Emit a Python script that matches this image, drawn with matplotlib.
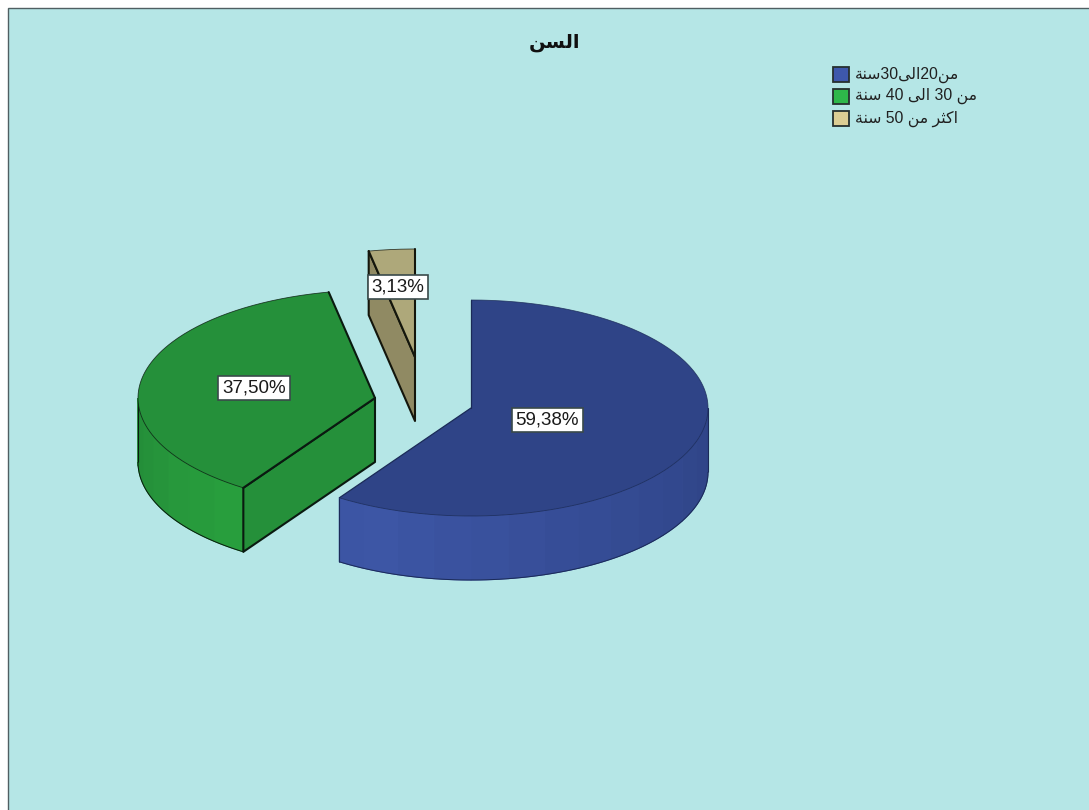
import re

import matplotlib
matplotlib.use('Agg')
import matplotlib.pyplot as plt
from matplotlib.patches import Polygon, Rectangle
import numpy as np

# Data
TITLE = 'السن'
CATEGORIES = ['من20الى30سنة', 'من 30 الى 40 سنة', 'اكثر من 50 سنة']
SHARES = [59.38, 37.50, 3.13]

# Colours per slice: top face, cut face, darkest and brightest wall band, legend swatch
TOP_COLORS = ['#2F4487', '#25903A', '#AEA87A']
CUT_COLORS = ['#2F4487', '#25903A', '#908A63']
WALL_DARK = ['#2F4487', '#1F7F34', '#908A63']
WALL_LIGHT = ['#3D56A6', '#2AA33F', '#A09A70']
EDGE_COLORS = ['#1B2B58', '#0A1A10', '#14160C']
EDGE_WIDTHS = [0.9, 1.5, 1.5]
SWATCH_COLORS = ['#3E58AC', '#2EB84A', '#DCCE94']
BACKGROUND = '#B5E6E6'

# Pie geometry, in pixels
RX, RY = 237, 108
DEPTH = 64
APEXES = [(471, 408), (375, 398), (415, 357)]
LABEL_POS = [(547, 420), (254, 388), (398, 287)]

# Joining forms: isolated, final, initial, medial
FORMS = {
    'ا': ('\uFE8D', '\uFE8E', None, None),
    'ر': ('\uFEAD', '\uFEAE', None, None),
    'ة': ('\uFE93', '\uFE94', None, None),
    'ى': ('\uFEEF', '\uFEF0', None, None),
    'ل': ('\uFEDD', '\uFEDE', '\uFEDF', '\uFEE0'),
    'س': ('\uFEB1', '\uFEB2', '\uFEB3', '\uFEB4'),
    'ن': ('\uFEE5', '\uFEE6', '\uFEE7', '\uFEE8'),
    'م': ('\uFEE1', '\uFEE2', '\uFEE3', '\uFEE4'),
    'ك': ('\uFED9', '\uFEDA', '\uFEDB', '\uFEDC'),
    'ث': ('\uFE99', '\uFE9A', '\uFE9B', '\uFE9C'),
}


def shape_word(word):
    """Pick the joining form of every letter and return the word in drawing order."""
    out = []
    for i, ch in enumerate(word):
        prev_joins = i > 0 and FORMS[word[i - 1]][2] is not None
        next_exists = i < len(word) - 1
        iso, fin, ini, med = FORMS[ch]
        if ini is None:
            out.append(fin if prev_joins else iso)
        elif prev_joins:
            out.append(med if next_exists else fin)
        else:
            out.append(ini if next_exists else iso)
    return ''.join(reversed(out))


def shape(text):
    """matplotlib has no bidi or shaping, so lay the runs out right to left by hand."""
    runs = re.findall(r'\d+|\s+|[^\d\s]+', text)
    return ''.join(r if not r[0].isalpha() else shape_word(r) for r in reversed(runs))


def rim(apex, theta, drop=0):
    """Points on the rim for clockwise angles measured from 12 o'clock, in degrees."""
    t = np.radians(theta)
    return np.column_stack((apex[0] + RX * np.sin(t), apex[1] + drop - RY * np.cos(t)))


def mix(c1, c2, f):
    a = np.array(matplotlib.colors.to_rgb(c1))
    b = np.array(matplotlib.colors.to_rgb(c2))
    return tuple(a + (b - a) * f)


def draw_slice(ax, i, start, end):
    apex = APEXES[i]
    # Outer wall, only the part that faces the viewer, drawn as flat bands
    lo, hi = max(start, 90), min(end, 270)
    if hi > lo:
        edges = np.arange(lo, hi + 9, 9.0)
        edges[-1] = hi
        for a, b in zip(edges[:-1], edges[1:]):
            th = np.linspace(a, b, 6)
            pts = np.vstack((rim(apex, th), rim(apex, th[::-1], DEPTH)))
            f = np.clip(1 - abs((a + b) / 2 - 205) / 115, 0, 1) ** 1.2
            col = mix(WALL_DARK[i], WALL_LIGHT[i], f)
            # same-colour edge closes the antialiasing seams between bands
            ax.add_patch(Polygon(pts, closed=True, fc=col, ec=col, lw=0.8, zorder=2))
        th = np.linspace(lo, hi, 80)
        ax.plot(*rim(apex, th, DEPTH).T, color=EDGE_COLORS[i], lw=0.7,
                solid_capstyle='butt', zorder=3)
        for a in (lo, hi):
            p = rim(apex, [a])[0]
            ax.plot([p[0], p[0]], [p[1], p[1] + DEPTH], color=EDGE_COLORS[i], lw=0.8,
                    solid_capstyle='butt', zorder=3)

    # Cut face that looks towards the viewer
    if i > 0:
        p = rim(apex, [start])[0]
        face = [apex, p, (p[0], p[1] + DEPTH), (apex[0], apex[1] + DEPTH)]
        ax.add_patch(Polygon(face, closed=True, fc=CUT_COLORS[i], ec=EDGE_COLORS[i], lw=1.5,
                             joinstyle='round', zorder=3))

    # Top face
    th = np.linspace(start, end, 160)
    top = np.vstack(([apex], rim(apex, th)))
    ax.add_patch(Polygon(top, closed=True, fc=TOP_COLORS[i], ec='none', zorder=4))
    ax.plot(*rim(apex, th).T, color=EDGE_COLORS[i], lw=0.6, alpha=0.8,
            solid_capstyle='butt', zorder=5)
    for a in (start, end):
        p = rim(apex, [a])[0]
        ax.plot([apex[0], p[0]], [apex[1], p[1]], color=EDGE_COLORS[i], lw=EDGE_WIDTHS[i],
                solid_capstyle='round', zorder=5)


fig = plt.figure(figsize=(10.89, 8.10), dpi=100, facecolor='white')
ax = fig.add_axes([0, 0, 1, 1])
ax.set_xlim(0, 1089)
ax.set_ylim(810, 0)
ax.axis('off')

ax.add_patch(Rectangle((8, 8), 1200, 1000, fc=BACKGROUND, ec='#4F5F62', lw=1.0, zorder=0))

ARABIC_FONT = ['Liberation Sans', 'DejaVu Sans']
ax.text(555, 43, shape(TITLE), ha='center', va='center', fontsize=14, fontweight='bold',
        family=ARABIC_FONT, color='#101010', zorder=8)

# Slices, clockwise from 12 o'clock
bounds = np.concatenate(([0], np.cumsum(SHARES))) / sum(SHARES) * 360
for i in (2, 1, 0):
    draw_slice(ax, i, bounds[i], bounds[i + 1])

for value, (x, y) in zip(SHARES, LABEL_POS):
    ax.text(x, y, f'{value:.2f}'.replace('.', ',') + '%', ha='center', va='center',
            fontsize=13.5, family='Liberation Sans', color='#1A1A1A', zorder=9,
            bbox=dict(boxstyle='square,pad=0.2', fc='white', ec='#3A4A4A', lw=1.2))

# Legend
for label, color, y in zip(CATEGORIES, SWATCH_COLORS, (74.5, 96, 118.5)):
    ax.add_patch(Rectangle((832.5, y - 7.5), 16, 15, fc=color, ec='#26302F', lw=1.3, zorder=8))
    ax.text(855, y, shape(label), ha='left', va='center', fontsize=11.3,
            family=ARABIC_FONT, color='#202020', zorder=8)

fig.savefig('out.png', dpi=100, facecolor=fig.get_facecolor())
